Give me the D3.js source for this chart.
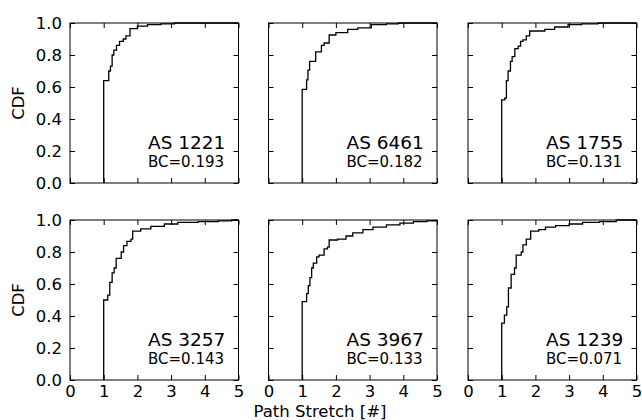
<!DOCTYPE html>
<html>
<head>
<meta charset="utf-8">
<script src="https://cdn.jsdelivr.net/npm/d3@7"></script>
<style>
  html, body { margin: 0; padding: 0; background: #fff; }
  svg { display: block; }
  text { font-family: "DejaVu Sans", sans-serif; fill: #000; }
</style>
</head>
<body>
<svg id="chart" width="642" height="420"></svg>
<script>
// ---- data ----
const asNames = ["AS 1221", "AS 6461", "AS 1755", "AS 3257", "AS 3967", "AS 1239"];
const bcValues = ["BC=0.193", "BC=0.182", "BC=0.131", "BC=0.143", "BC=0.133", "BC=0.071"];
const xTickValues = [0, 1, 2, 3, 4, 5];
const yTickValues = [0.0, 0.2, 0.4, 0.6, 0.8, 1.0];

const stretch1221 = [1.0, 1.15, 1.2, 1.25, 1.3, 1.38, 1.47, 1.58, 1.66, 1.78, 2.0, 2.3, 2.7, 3.1];
const cdf1221     = [0.64, 0.70, 0.73, 0.80, 0.83, 0.86, 0.885, 0.90, 0.92, 0.965, 0.98, 0.99, 0.995, 1.0];

const stretch6461 = [1.0, 1.13, 1.17, 1.22, 1.4, 1.57, 1.65, 1.8, 2.0, 2.35, 2.65, 3.05, 3.5, 3.85];
const cdf6461     = [0.585, 0.645, 0.705, 0.76, 0.82, 0.86, 0.875, 0.925, 0.94, 0.96, 0.97, 0.99, 0.995, 1.0];

const stretch1755 = [1.0, 1.09, 1.14, 1.19, 1.26, 1.31, 1.39, 1.49, 1.56, 1.63, 1.73, 1.83, 2.28, 2.57, 2.97, 3.37, 3.86];
const cdf1755     = [0.52, 0.53, 0.64, 0.70, 0.76, 0.79, 0.84, 0.855, 0.885, 0.895, 0.92, 0.95, 0.96, 0.975, 0.99, 0.995, 1.0];

const stretch3257 = [1.0, 1.12, 1.18, 1.25, 1.31, 1.37, 1.52, 1.59, 1.69, 1.81, 1.86, 2.1, 2.4, 2.8, 3.2, 3.8, 4.4, 4.8];
const cdf3257     = [0.50, 0.53, 0.61, 0.67, 0.70, 0.76, 0.80, 0.84, 0.866, 0.88, 0.93, 0.945, 0.96, 0.975, 0.985, 0.99, 0.995, 1.0];

const stretch3967 = [1.0, 1.13, 1.18, 1.23, 1.28, 1.33, 1.43, 1.5, 1.65, 1.75, 1.8, 2.05, 2.3, 2.5, 2.8, 3.1, 3.5, 3.9, 4.3, 4.7, 5.0];
const cdf3967     = [0.49, 0.54, 0.59, 0.64, 0.70, 0.73, 0.77, 0.78, 0.82, 0.83, 0.875, 0.88, 0.90, 0.92, 0.94, 0.955, 0.97, 0.98, 0.99, 0.995, 1.0];

const stretch1239 = [1.0, 1.08, 1.15, 1.2, 1.28, 1.38, 1.43, 1.58, 1.63, 1.73, 1.86, 2.1, 2.3, 2.6, 3.0, 3.4, 3.9, 4.4];
const cdf1239     = [0.355, 0.405, 0.457, 0.575, 0.66, 0.70, 0.78, 0.80, 0.845, 0.88, 0.93, 0.94, 0.955, 0.965, 0.975, 0.985, 0.99, 1.0];

const stretchSeries = [stretch1221, stretch6461, stretch1755, stretch3257, stretch3967, stretch1239];
const cdfSeries     = [cdf1221, cdf6461, cdf1755, cdf3257, cdf3967, cdf1239];

// ---- layout ----
const svg = d3.select("#chart");
const panelW = 168.5, panelH = 160;
const colLeft = [70, 268.5, 468];
const rowTop = [23, 220];
const tickLen = 5;
const labelSize = "16.5px";

const x = d3.scaleLinear().domain([0, 5]).range([0, panelW]);
const y = d3.scaleLinear().domain([0, 1]).range([panelH, 0]);

const line = d3.line()
  .x(d => x(d[0]))
  .y(d => y(d[1]))
  .curve(d3.curveStepAfter);

asNames.forEach((name, i) => {
  const row = Math.floor(i / 3), col = i % 3;
  const g = svg.append("g").attr("transform", `translate(${colLeft[col]},${rowTop[row]})`);

  // axes with inward ticks on all four sides
  const left = g.append("g").call(
    d3.axisLeft(y).tickValues(yTickValues).tickSize(-tickLen).tickSizeOuter(0).tickPadding(8)
      .tickFormat(col === 0 ? d3.format(".1f") : () => ""));
  const right = g.append("g").attr("transform", `translate(${panelW},0)`).call(
    d3.axisRight(y).tickValues(yTickValues).tickSize(-tickLen).tickSizeOuter(0).tickFormat(() => ""));
  const bottom = g.append("g").attr("transform", `translate(0,${panelH})`).call(
    d3.axisBottom(x).tickValues(xTickValues).tickSize(-tickLen).tickSizeOuter(0).tickPadding(5)
      .tickFormat(row === 1 ? d3.format("d") : () => ""));
  const top = g.append("g").call(
    d3.axisTop(x).tickValues(xTickValues).tickSize(-tickLen).tickSizeOuter(0).tickFormat(() => ""));

  [left, right, bottom, top].forEach(a => {
    a.select(".domain").remove();
    a.selectAll(".tick line").attr("stroke", "#000").attr("stroke-width", 1);
    a.selectAll(".tick text").style("font-size", labelSize).style("font-family", "DejaVu Sans, sans-serif");
  });

  // step CDF
  const xs = stretchSeries[i], ys = cdfSeries[i];
  const pts = [[xs[0], 0]].concat(xs.map((v, k) => [v, ys[k]]));
  pts.push([5, ys[ys.length - 1]]);
  g.append("path")
    .attr("d", line(pts))
    .attr("fill", "none")
    .attr("stroke", "#000")
    .attr("stroke-width", 1.3);

  // frame
  g.append("rect")
    .attr("x", 0).attr("y", 0)
    .attr("width", panelW).attr("height", panelH)
    .attr("fill", "none").attr("stroke", "#000").attr("stroke-width", 1);

  // annotations
  g.append("text")
    .attr("x", 78).attr("y", panelH - 34)
    .style("font-size", "18.5px")
    .text(name);
  g.append("text")
    .attr("x", 78).attr("y", panelH - 16)
    .style("font-size", "15px")
    .text(bcValues[i]);

  if (col === 0) {
    svg.append("text")
      .attr("transform", `translate(24,${rowTop[row] + panelH / 2}) rotate(-90)`)
      .attr("text-anchor", "middle")
      .style("font-size", labelSize)
      .text("CDF");
  }
});

svg.append("text")
  .attr("x", 320).attr("y", 416.5)
  .attr("text-anchor", "middle")
  .style("font-size", labelSize)
  .text("Path Stretch [#]");
</script>
</body>
</html>
